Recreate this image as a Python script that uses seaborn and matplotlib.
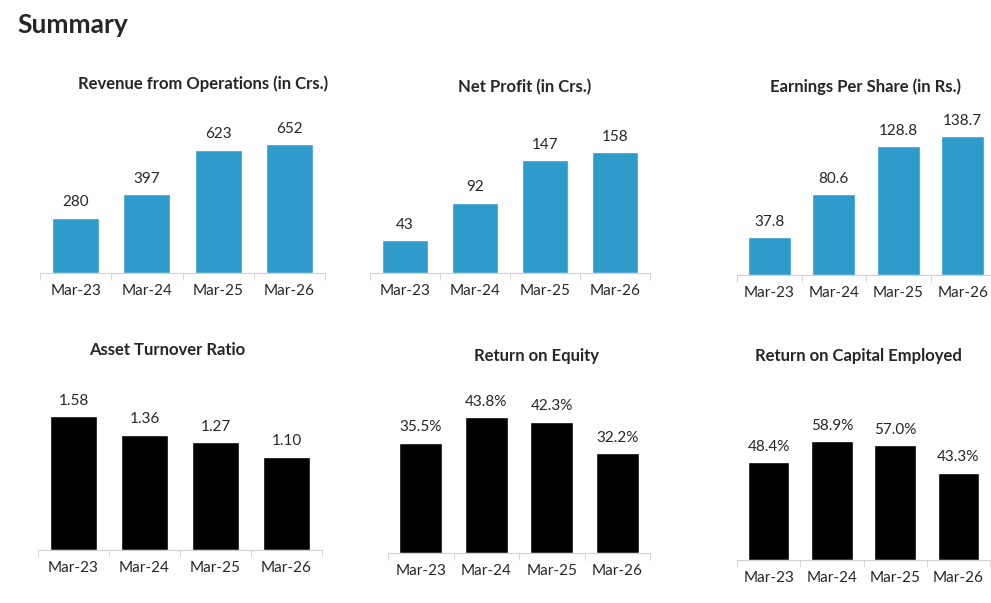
import matplotlib
matplotlib.use("Agg")
import matplotlib.pyplot as plt
import seaborn as sns
import pandas as pd

sns.set_style("white")
plt.rcParams['font.family'] = ['Lato', 'DejaVu Sans']

periods = ["Mar-23", "Mar-24", "Mar-25", "Mar-26"]
revenue = [280, 397, 623, 652]
net_profit = [43, 92, 147, 158]
eps = [37.8, 80.6, 128.8, 138.7]
asset_turnover = [1.58, 1.36, 1.27, 1.10]
roe = [35.5, 43.8, 42.3, 32.2]
roce = [48.4, 58.9, 57.0, 43.3]

BLUE = "#2e9bcb"
W, H = 991, 603

# (title, values, fmt, color, x0, x1, baseline, top of max bar, title x, title y)
panels = [
    ("Revenue from Operations (in Crs.)", revenue, "{:.0f}", BLUE, 40, 325, 273, 144, 203, 84),
    ("Net Profit (in Crs.)", net_profit, "{:.0f}", BLUE, 370, 650, 273, 152, 525, 87),
    ("Earnings Per Share (in Rs.)", eps, "{:.1f}", BLUE, 737, 995, 275, 136, 866, 87),
    ("Asset Turnover Ratio", asset_turnover, "{:.2f}", "black", 38, 322, 550, 416, 167, 350),
    ("Return on Equity", roe, "{:.1f}%", "black", 388, 650, 553, 417, 537, 356),
    ("Return on Capital Employed", roce, "{:.1f}%", "black", 737, 990, 560, 441, 858, 356),
]

fig = plt.figure(figsize=(W / 100, H / 100), dpi=100)
fig.text(17 / W, 1 - 25 / H, "Summary", fontsize=19, fontweight="bold", va="center")

for title, vals, fmt, color, x0, x1, base, top, tx, ty in panels:
    hpx = (base - top) / 0.75
    ax = fig.add_axes([x0 / W, 1 - base / H, (x1 - x0) / W, hpx / H])
    df = pd.DataFrame({"period": periods, "value": vals})
    sns.barplot(data=df, x="period", y="value", color=color, width=0.66,
                saturation=1, ax=ax)
    ax.set_ylim(0, max(vals) / 0.75)
    ax.set_xlim(-0.5, 3.5)
    ax.bar_label(ax.containers[0], labels=[fmt.format(v) for v in vals],
                 padding=6, fontsize=11)
    for s in ["top", "left", "right"]:
        ax.spines[s].set_visible(False)
    ax.spines["bottom"].set_color("#d0d0d0")
    ax.set_yticks([])
    ax.set_xlabel("")
    ax.set_ylabel("")
    ax.set_xticks([-0.5, 0.5, 1.5, 2.5, 3.5], minor=True)
    ax.tick_params(axis="x", which="major", length=0, labelsize=11, pad=8)
    ax.tick_params(axis="x", which="minor", length=5, color="#d0d0d0", bottom=True)
    fig.text(tx / W, 1 - ty / H, title, fontsize=12, fontweight="bold",
             ha="center", va="center")

fig.savefig("out.png", dpi=100)
